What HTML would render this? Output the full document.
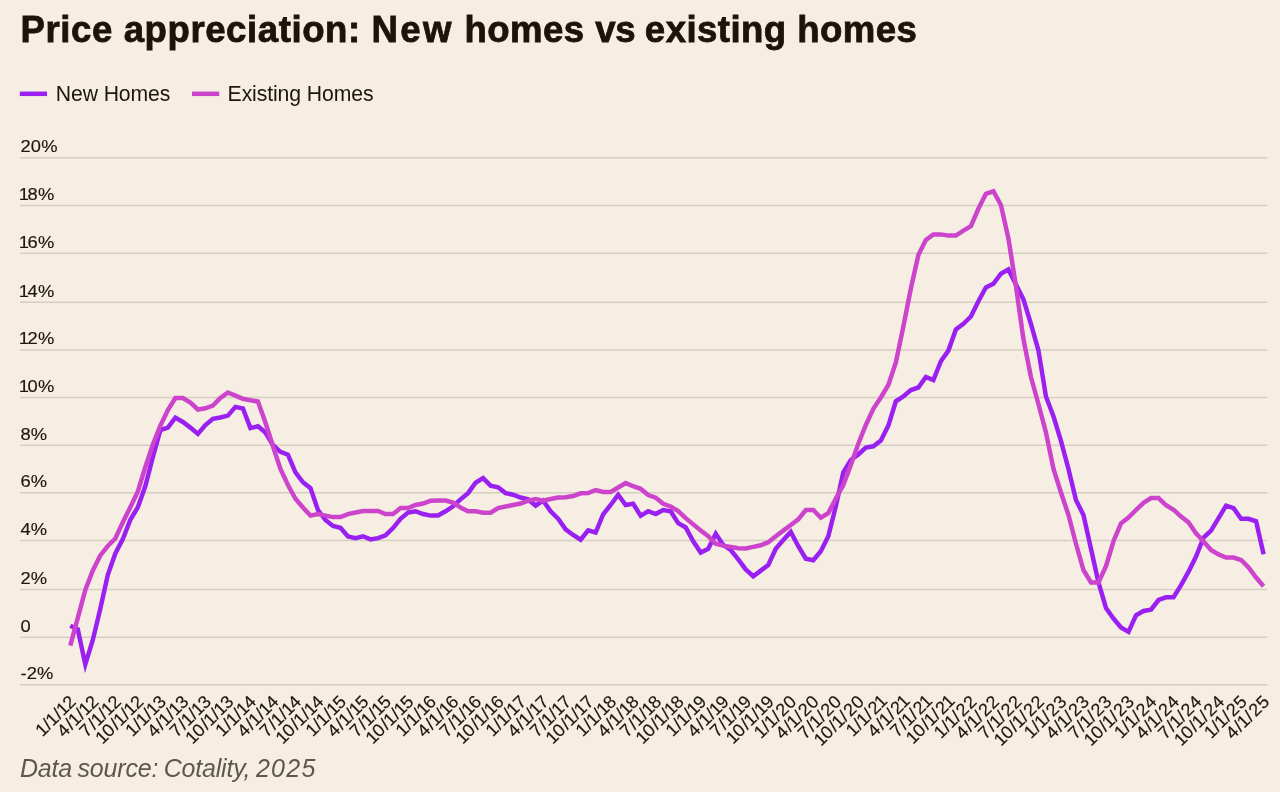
<!DOCTYPE html>
<html lang="en">
<head>
<meta charset="utf-8">
<title>Price appreciation: New homes vs existing homes</title>
<style>
html,body{margin:0;padding:0;}
body{width:1280px;height:792px;overflow:hidden;background:#F6EEE3;font-family:"Liberation Sans",sans-serif;color:#1D160C;position:relative;}
h1{position:absolute;left:20.6px;top:11.85px;margin:0;font-size:36.6px;line-height:1;font-weight:700;letter-spacing:0.44px;white-space:nowrap;color:#1C1408;-webkit-text-stroke:0.8px #1C1408;transform-origin:0 0;transform:scale(1,1);}
.legend{position:absolute;left:0;top:82px;height:24px;margin:0;padding:0;font-size:21.2px;line-height:24px;white-space:nowrap;}
.legend span.lb{position:absolute;top:0;letter-spacing:-0.1px;}
.page{position:absolute;left:0;top:0;width:1280px;height:792px;overflow:hidden;}
.chart{position:absolute;left:0;top:0;}
.chart text{font-family:"Liberation Sans",sans-serif;fill:#1D160C;stroke:#1D160C;stroke-width:0.15px;}
.chart .yl text{font-size:17.3px;letter-spacing:0.2px;}
.chart .xl text{font-size:17.8px;}
.src{position:absolute;left:20px;top:756px;margin:0;font-size:25px;line-height:1;font-style:italic;color:#5E574C;white-space:nowrap;letter-spacing:-0.2px;word-spacing:-1.2px;}
.src .yr{letter-spacing:1.3px;}
</style>
</head>
<body>
<div class="page">
<div class="chart">
<svg width="1280" height="792" viewBox="0 0 1280 792">
<g stroke="#D6CEC2" stroke-width="1.5" fill="none">
<line x1="20" x2="1267.3" y1="157.85" y2="157.85"/>
<line x1="20" x2="1267.3" y1="205.49" y2="205.49"/>
<line x1="20" x2="1267.3" y1="253.13" y2="253.13"/>
<line x1="20" x2="1267.3" y1="302.26" y2="302.26"/>
<line x1="20" x2="1267.3" y1="349.89" y2="349.89"/>
<line x1="20" x2="1267.3" y1="397.53" y2="397.53"/>
<line x1="20" x2="1267.3" y1="445.17" y2="445.17"/>
<line x1="20" x2="1267.3" y1="492.81" y2="492.81"/>
<line x1="20" x2="1267.3" y1="540.44" y2="540.44"/>
<line x1="20" x2="1267.3" y1="589.57" y2="589.57"/>
<line x1="20" x2="1267.3" y1="637.21" y2="637.21"/>
<line x1="20" x2="1267.3" y1="684.85" y2="684.85"/>
</g>
<g class="yl">
<text transform="translate(20.4,152.25) scale(1.06,1)"><tspan style="letter-spacing:0.2px">20%</tspan></text>
<text transform="translate(18.799999999999997,199.89) scale(1.06,1)"><tspan style="letter-spacing:-1.3px">1</tspan><tspan style="letter-spacing:0.2px">8%</tspan></text>
<text transform="translate(18.799999999999997,247.53) scale(1.06,1)"><tspan style="letter-spacing:-1.3px">1</tspan><tspan style="letter-spacing:0.2px">6%</tspan></text>
<text transform="translate(18.799999999999997,296.66) scale(1.06,1)"><tspan style="letter-spacing:-1.3px">1</tspan><tspan style="letter-spacing:0.2px">4%</tspan></text>
<text transform="translate(18.799999999999997,344.29) scale(1.06,1)"><tspan style="letter-spacing:-1.3px">1</tspan><tspan style="letter-spacing:0.2px">2%</tspan></text>
<text transform="translate(18.799999999999997,391.93) scale(1.06,1)"><tspan style="letter-spacing:-1.3px">1</tspan><tspan style="letter-spacing:0.2px">0%</tspan></text>
<text transform="translate(20.4,439.57) scale(1.06,1)"><tspan style="letter-spacing:0.2px">8%</tspan></text>
<text transform="translate(20.4,487.21) scale(1.06,1)"><tspan style="letter-spacing:0.2px">6%</tspan></text>
<text transform="translate(20.4,534.84) scale(1.06,1)"><tspan style="letter-spacing:0.2px">4%</tspan></text>
<text transform="translate(20.4,583.97) scale(1.06,1)"><tspan style="letter-spacing:0.2px">2%</tspan></text>
<text transform="translate(20.4,631.61) scale(1.06,1)"><tspan style="letter-spacing:0.2px">0</tspan></text>
<text transform="translate(20.4,679.25) scale(1.06,1)"><tspan style="letter-spacing:0.2px">-2%</tspan></text>
</g>
<g class="xl">
<text transform="translate(77.20,702.65) rotate(-45) scale(1.03,1)" x="-47.72 -37.91 -33.44 -23.64 -19.17 -10.09" y="0">1/1/12</text>
<text transform="translate(99.72,702.65) rotate(-45) scale(1.03,1)" x="-48.93 -37.91 -33.44 -23.64 -19.17 -10.09" y="0">4/1/12</text>
<text transform="translate(122.23,702.65) rotate(-45) scale(1.03,1)" x="-48.93 -37.91 -33.44 -23.64 -19.17 -10.09" y="0">7/1/12</text>
<text transform="translate(144.75,702.65) rotate(-45) scale(1.03,1)" x="-58.01 -48.93 -37.91 -33.44 -23.64 -19.17 -10.09" y="0">10/1/12</text>
<text transform="translate(167.26,702.65) rotate(-45) scale(1.03,1)" x="-47.72 -37.91 -33.44 -23.64 -19.17 -10.09" y="0">1/1/13</text>
<text transform="translate(189.78,702.65) rotate(-45) scale(1.03,1)" x="-48.93 -37.91 -33.44 -23.64 -19.17 -10.09" y="0">4/1/13</text>
<text transform="translate(212.29,702.65) rotate(-45) scale(1.03,1)" x="-48.93 -37.91 -33.44 -23.64 -19.17 -10.09" y="0">7/1/13</text>
<text transform="translate(234.81,702.65) rotate(-45) scale(1.03,1)" x="-58.01 -48.93 -37.91 -33.44 -23.64 -19.17 -10.09" y="0">10/1/13</text>
<text transform="translate(257.32,702.65) rotate(-45) scale(1.03,1)" x="-47.72 -37.91 -33.44 -23.64 -19.17 -10.09" y="0">1/1/14</text>
<text transform="translate(279.83,702.65) rotate(-45) scale(1.03,1)" x="-48.93 -37.91 -33.44 -23.64 -19.17 -10.09" y="0">4/1/14</text>
<text transform="translate(302.35,702.65) rotate(-45) scale(1.03,1)" x="-48.93 -37.91 -33.44 -23.64 -19.17 -10.09" y="0">7/1/14</text>
<text transform="translate(324.87,702.65) rotate(-45) scale(1.03,1)" x="-58.01 -48.93 -37.91 -33.44 -23.64 -19.17 -10.09" y="0">10/1/14</text>
<text transform="translate(347.38,702.65) rotate(-45) scale(1.03,1)" x="-47.72 -37.91 -33.44 -23.64 -19.17 -10.09" y="0">1/1/15</text>
<text transform="translate(369.89,702.65) rotate(-45) scale(1.03,1)" x="-48.93 -37.91 -33.44 -23.64 -19.17 -10.09" y="0">4/1/15</text>
<text transform="translate(392.41,702.65) rotate(-45) scale(1.03,1)" x="-48.93 -37.91 -33.44 -23.64 -19.17 -10.09" y="0">7/1/15</text>
<text transform="translate(414.93,702.65) rotate(-45) scale(1.03,1)" x="-58.01 -48.93 -37.91 -33.44 -23.64 -19.17 -10.09" y="0">10/1/15</text>
<text transform="translate(437.44,702.65) rotate(-45) scale(1.03,1)" x="-47.72 -37.91 -33.44 -23.64 -19.17 -10.09" y="0">1/1/16</text>
<text transform="translate(459.95,702.65) rotate(-45) scale(1.03,1)" x="-48.93 -37.91 -33.44 -23.64 -19.17 -10.09" y="0">4/1/16</text>
<text transform="translate(482.47,702.65) rotate(-45) scale(1.03,1)" x="-48.93 -37.91 -33.44 -23.64 -19.17 -10.09" y="0">7/1/16</text>
<text transform="translate(504.99,702.65) rotate(-45) scale(1.03,1)" x="-58.01 -48.93 -37.91 -33.44 -23.64 -19.17 -10.09" y="0">10/1/16</text>
<text transform="translate(527.50,702.65) rotate(-45) scale(1.03,1)" x="-47.72 -37.91 -33.44 -23.64 -19.17 -10.09" y="0">1/1/17</text>
<text transform="translate(550.01,702.65) rotate(-45) scale(1.03,1)" x="-48.93 -37.91 -33.44 -23.64 -19.17 -10.09" y="0">4/1/17</text>
<text transform="translate(572.53,702.65) rotate(-45) scale(1.03,1)" x="-48.93 -37.91 -33.44 -23.64 -19.17 -10.09" y="0">7/1/17</text>
<text transform="translate(595.04,702.65) rotate(-45) scale(1.03,1)" x="-58.01 -48.93 -37.91 -33.44 -23.64 -19.17 -10.09" y="0">10/1/17</text>
<text transform="translate(617.56,702.65) rotate(-45) scale(1.03,1)" x="-47.72 -37.91 -33.44 -23.64 -19.17 -10.09" y="0">1/1/18</text>
<text transform="translate(640.07,702.65) rotate(-45) scale(1.03,1)" x="-48.93 -37.91 -33.44 -23.64 -19.17 -10.09" y="0">4/1/18</text>
<text transform="translate(662.59,702.65) rotate(-45) scale(1.03,1)" x="-48.93 -37.91 -33.44 -23.64 -19.17 -10.09" y="0">7/1/18</text>
<text transform="translate(685.10,702.65) rotate(-45) scale(1.03,1)" x="-58.01 -48.93 -37.91 -33.44 -23.64 -19.17 -10.09" y="0">10/1/18</text>
<text transform="translate(707.62,702.65) rotate(-45) scale(1.03,1)" x="-47.72 -37.91 -33.44 -23.64 -19.17 -10.09" y="0">1/1/19</text>
<text transform="translate(730.13,702.65) rotate(-45) scale(1.03,1)" x="-48.93 -37.91 -33.44 -23.64 -19.17 -10.09" y="0">4/1/19</text>
<text transform="translate(752.65,702.65) rotate(-45) scale(1.03,1)" x="-48.93 -37.91 -33.44 -23.64 -19.17 -10.09" y="0">7/1/19</text>
<text transform="translate(775.16,702.65) rotate(-45) scale(1.03,1)" x="-58.01 -48.93 -37.91 -33.44 -23.64 -19.17 -10.09" y="0">10/1/19</text>
<text transform="translate(797.68,702.65) rotate(-45) scale(1.03,1)" x="-50.53 -40.73 -36.26 -26.45 -20.39 -10.09" y="0">1/1/20</text>
<text transform="translate(820.19,702.65) rotate(-45) scale(1.03,1)" x="-51.74 -40.73 -36.26 -26.45 -20.39 -10.09" y="0">4/1/20</text>
<text transform="translate(842.71,702.65) rotate(-45) scale(1.03,1)" x="-51.74 -40.73 -36.26 -26.45 -20.39 -10.09" y="0">7/1/20</text>
<text transform="translate(865.22,702.65) rotate(-45) scale(1.03,1)" x="-60.82 -51.74 -40.73 -36.26 -26.45 -20.39 -10.09" y="0">10/1/20</text>
<text transform="translate(887.74,702.65) rotate(-45) scale(1.03,1)" x="-47.72 -37.91 -33.44 -23.64 -17.57 -8.88" y="0">1/1/21</text>
<text transform="translate(910.25,702.65) rotate(-45) scale(1.03,1)" x="-48.93 -37.91 -33.44 -23.64 -17.57 -8.88" y="0">4/1/21</text>
<text transform="translate(932.77,702.65) rotate(-45) scale(1.03,1)" x="-48.93 -37.91 -33.44 -23.64 -17.57 -8.88" y="0">7/1/21</text>
<text transform="translate(955.28,702.65) rotate(-45) scale(1.03,1)" x="-58.01 -48.93 -37.91 -33.44 -23.64 -17.57 -8.88" y="0">10/1/21</text>
<text transform="translate(977.80,702.65) rotate(-45) scale(1.03,1)" x="-50.53 -40.73 -36.26 -26.45 -20.39 -10.09" y="0">1/1/22</text>
<text transform="translate(1000.31,702.65) rotate(-45) scale(1.03,1)" x="-51.74 -40.73 -36.26 -26.45 -20.39 -10.09" y="0">4/1/22</text>
<text transform="translate(1022.83,702.65) rotate(-45) scale(1.03,1)" x="-51.74 -40.73 -36.26 -26.45 -20.39 -10.09" y="0">7/1/22</text>
<text transform="translate(1045.35,702.65) rotate(-45) scale(1.03,1)" x="-60.82 -51.74 -40.73 -36.26 -26.45 -20.39 -10.09" y="0">10/1/22</text>
<text transform="translate(1067.86,702.65) rotate(-45) scale(1.03,1)" x="-50.53 -40.73 -36.26 -26.45 -20.39 -10.09" y="0">1/1/23</text>
<text transform="translate(1090.38,702.65) rotate(-45) scale(1.03,1)" x="-51.74 -40.73 -36.26 -26.45 -20.39 -10.09" y="0">4/1/23</text>
<text transform="translate(1112.89,702.65) rotate(-45) scale(1.03,1)" x="-51.74 -40.73 -36.26 -26.45 -20.39 -10.09" y="0">7/1/23</text>
<text transform="translate(1135.40,702.65) rotate(-45) scale(1.03,1)" x="-60.82 -51.74 -40.73 -36.26 -26.45 -20.39 -10.09" y="0">10/1/23</text>
<text transform="translate(1157.92,702.65) rotate(-45) scale(1.03,1)" x="-50.53 -40.73 -36.26 -26.45 -20.39 -10.09" y="0">1/1/24</text>
<text transform="translate(1180.44,702.65) rotate(-45) scale(1.03,1)" x="-51.74 -40.73 -36.26 -26.45 -20.39 -10.09" y="0">4/1/24</text>
<text transform="translate(1202.95,702.65) rotate(-45) scale(1.03,1)" x="-51.74 -40.73 -36.26 -26.45 -20.39 -10.09" y="0">7/1/24</text>
<text transform="translate(1225.47,702.65) rotate(-45) scale(1.03,1)" x="-60.82 -51.74 -40.73 -36.26 -26.45 -20.39 -10.09" y="0">10/1/24</text>
<text transform="translate(1247.98,702.65) rotate(-45) scale(1.03,1)" x="-50.53 -40.73 -36.26 -26.45 -20.39 -10.09" y="0">1/1/25</text>
<text transform="translate(1270.50,702.65) rotate(-45) scale(1.03,1)" x="-51.74 -40.73 -36.26 -26.45 -20.39 -10.09" y="0">4/1/25</text>
</g>
<line x1="19.8" x2="47.0" y1="93.8" y2="93.8" stroke="#9A20F2" stroke-width="4.5"/>
<line x1="192" x2="219.2" y1="93.8" y2="93.8" stroke="#CC44CC" stroke-width="4.5"/>
<path d="M70.30,625.70L77.80,629.30L85.31,664.40L92.81,640.00L100.32,608.75L107.82,574.75L115.33,553.50L122.83,539.10L130.34,519.75L137.84,507.25L145.35,486.00L152.85,457.00L160.36,430.10L167.87,427.60L175.37,417.60L182.88,422.00L190.38,427.60L197.88,433.90L205.39,425.10L212.89,418.80L220.40,417.50L227.90,415.60L235.41,406.90L242.92,408.50L250.42,428.10L257.93,426.25L265.43,432.50L272.94,445.00L280.44,451.80L287.94,454.70L295.45,472.40L302.95,482.25L310.46,488.10L317.96,510.00L325.47,520.00L332.98,526.00L340.48,527.75L347.99,536.50L355.49,538.10L363.00,536.25L370.50,539.40L378.00,538.10L385.51,535.40L393.01,528.10L400.52,518.75L408.03,512.50L415.53,511.25L423.04,514.00L430.54,515.60L438.05,515.50L445.55,511.25L453.06,506.25L460.56,499.40L468.06,493.10L475.57,482.75L483.07,478.10L490.58,485.60L498.08,487.25L505.59,493.10L513.10,494.75L520.60,497.50L528.11,499.40L535.61,505.60L543.12,500.60L550.62,511.25L558.12,518.75L565.63,529.40L573.13,535.00L580.64,539.75L588.14,530.30L595.65,532.50L603.15,514.40L610.66,505.00L618.16,494.75L625.67,505.00L633.17,503.75L640.68,515.60L648.18,511.25L655.69,514.00L663.19,510.00L670.70,511.25L678.20,523.10L685.71,527.50L693.21,541.25L700.72,552.50L708.22,548.75L715.73,533.75L723.23,545.00L730.74,550.00L738.24,559.40L745.75,569.40L753.25,576.25L760.76,570.60L768.26,565.00L775.77,548.75L783.27,540.00L790.78,531.90L798.28,546.25L805.79,558.75L813.29,560.25L820.80,551.25L828.30,536.25L835.81,506.25L843.31,472.45L850.82,460.00L858.32,454.40L865.83,447.50L873.33,446.25L880.84,440.60L888.34,425.60L895.85,401.25L903.35,396.50L910.86,390.00L918.36,387.50L925.87,376.90L933.37,380.00L940.88,361.25L948.38,350.60L955.89,329.40L963.39,323.75L970.90,316.50L978.40,301.25L985.91,287.50L993.41,283.75L1000.92,273.75L1008.42,269.40L1015.93,284.40L1023.43,299.40L1030.94,324.00L1038.44,350.50L1045.95,396.50L1053.45,416.25L1060.96,440.95L1068.46,468.95L1075.97,500.00L1083.47,515.00L1090.98,548.75L1098.48,582.50L1105.99,608.00L1113.49,618.50L1121.00,627.50L1128.50,631.90L1136.01,615.30L1143.51,611.00L1151.02,609.60L1158.52,600.00L1166.03,597.30L1173.53,597.30L1181.04,585.20L1188.54,571.70L1196.05,556.50L1203.55,537.50L1211.06,530.60L1218.56,518.10L1226.07,505.60L1233.58,508.10L1241.08,518.75L1248.59,518.75L1256.09,521.25L1263.60,554.25" fill="none" stroke="#9A20F2" stroke-width="4.5" stroke-linejoin="miter" stroke-miterlimit="10"/>
<path d="M70.30,645.60L77.80,617.80L85.31,590.00L92.81,570.50L100.32,555.40L107.82,546.00L115.33,538.50L122.83,522.25L130.34,507.25L137.84,491.50L145.35,467.00L152.85,444.50L160.36,425.75L167.87,410.10L175.37,398.00L182.88,398.00L190.38,402.60L197.88,409.50L205.39,408.25L212.89,405.50L220.40,398.00L227.90,392.50L235.41,395.60L242.92,398.75L250.42,400.25L257.93,401.50L265.43,422.50L272.94,446.25L280.44,469.00L287.94,485.00L295.45,498.75L302.95,507.50L310.46,515.60L317.96,514.10L325.47,515.60L332.98,517.10L340.48,517.10L347.99,514.10L355.49,512.50L363.00,511.00L370.50,511.00L378.00,511.00L385.51,514.00L393.01,514.10L400.52,508.10L408.03,508.10L415.53,505.00L423.04,503.50L430.54,500.80L438.05,500.60L445.55,500.60L453.06,502.50L460.56,507.50L468.06,511.25L475.57,511.25L483.07,512.75L490.58,512.75L498.08,508.10L505.59,506.50L513.10,505.00L520.60,503.50L528.11,500.60L535.61,499.00L543.12,500.60L550.62,499.00L558.12,497.50L565.63,497.25L573.13,496.00L580.64,493.30L588.14,493.00L595.65,490.00L603.15,491.90L610.66,491.90L618.16,487.50L625.67,483.10L633.17,486.25L640.68,488.75L648.18,495.00L655.69,497.75L663.19,503.75L670.70,506.50L678.20,511.00L685.71,518.10L693.21,524.40L700.72,530.60L708.22,536.25L715.73,543.75L723.23,545.60L730.74,546.90L738.24,548.30L745.75,548.50L753.25,546.90L760.76,545.25L768.26,542.25L775.77,536.25L783.27,530.60L790.78,525.00L798.28,519.40L805.79,510.00L813.29,510.00L820.80,517.75L828.30,513.10L835.81,498.50L843.31,485.00L850.82,465.00L858.32,443.75L865.83,425.00L873.33,408.75L880.84,397.50L888.34,385.00L895.85,362.50L903.35,326.50L910.86,288.50L918.36,255.00L925.87,240.00L933.37,234.40L940.88,234.40L948.38,235.60L955.89,235.60L963.39,230.60L970.90,226.25L978.40,208.75L985.91,193.75L993.41,191.25L1000.92,205.00L1008.42,238.50L1015.93,286.00L1023.43,339.00L1030.94,377.00L1038.44,404.00L1045.95,432.50L1053.45,468.75L1060.96,492.50L1068.46,515.00L1075.97,543.75L1083.47,570.00L1090.98,582.50L1098.48,582.60L1105.99,566.25L1113.49,541.25L1121.00,523.30L1128.50,517.50L1136.01,510.00L1143.51,502.80L1151.02,498.10L1158.52,498.10L1166.03,505.30L1173.53,509.70L1181.04,516.60L1188.54,522.40L1196.05,533.40L1203.55,541.50L1211.06,550.00L1218.56,554.40L1226.07,557.50L1233.58,557.50L1241.08,560.00L1248.59,567.50L1256.09,577.50L1263.60,586.25" fill="none" stroke="#CC44CC" stroke-width="4.5" stroke-linejoin="miter" stroke-miterlimit="10"/>
</svg>
</div>
<h1><span style="letter-spacing:0.57px">Price appreciation: </span><span style="letter-spacing:2.4px">New</span> homes <span style="letter-spacing:-0.4px">vs </span>existing homes</h1>
<div class="legend">
<span class="lb" style="left:55.8px">New Homes</span>
<span class="lb" style="left:227.6px">Existing Homes</span>
</div>
<p class="src">Data source: Cotality, <span class="yr">2025</span></p>
</div>
</body>
</html>
